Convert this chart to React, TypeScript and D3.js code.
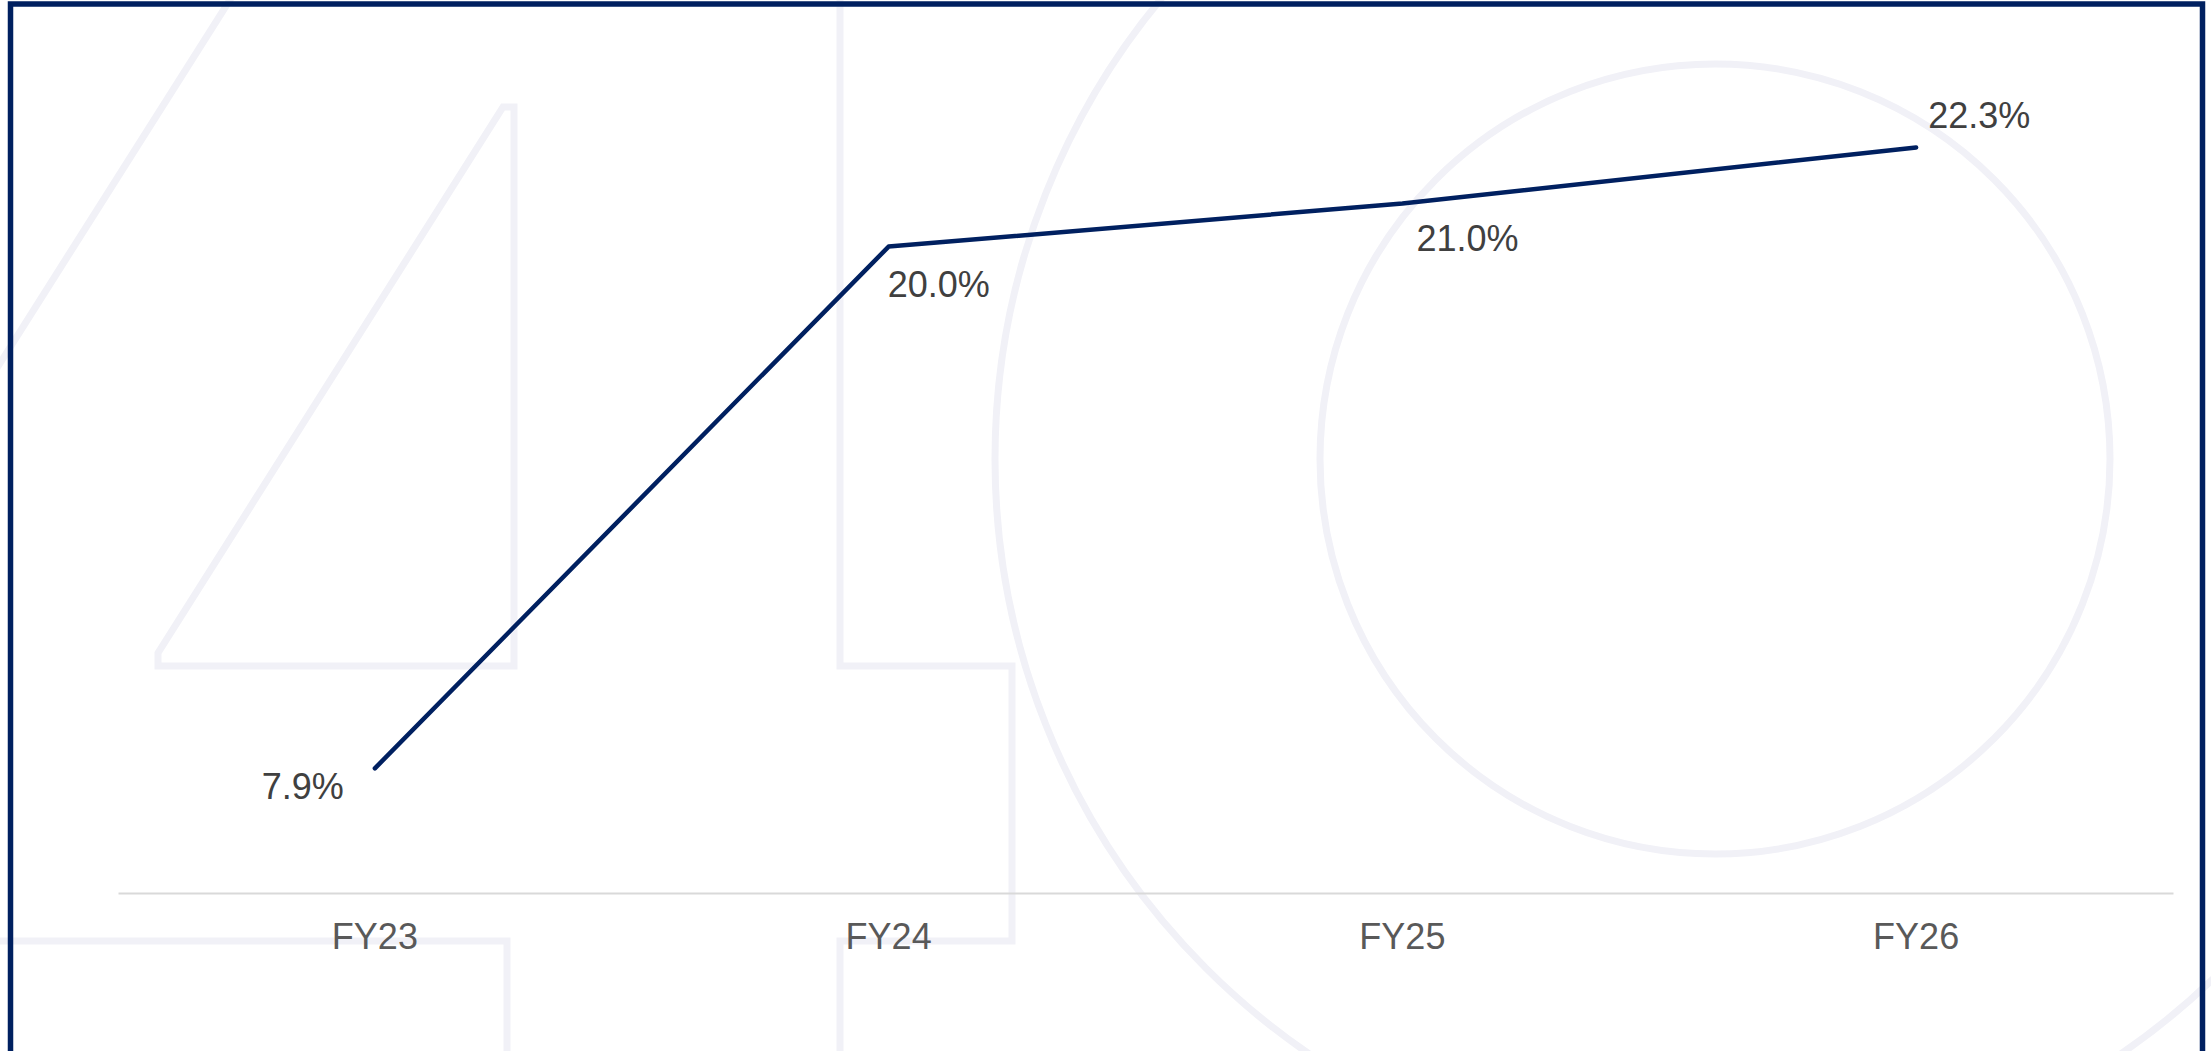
import { useEffect, useRef } from 'react';
import * as d3 from 'd3';

// Chart data
const categories = ['FY23', 'FY24', 'FY25', 'FY26'];
const values = [7.9, 20.0, 21.0, 22.3];
const valueLabels = ['7.9%', '20.0%', '21.0%', '22.3%'];

// label placement relative to each point (anchor, dx, dy)
const labelPlacement = [
  { anchor: 'end', dx: -31, dy: 31 },
  { anchor: 'start', dx: -1, dy: 50 },
  { anchor: 'start', dx: 14, dy: 48 },
  { anchor: 'start', dx: 12, dy: -19 },
];

const W = 2211;
const H = 1051;
const NAVY = '#002060';
const WATERMARK = '#f1f1f7';
const FONT = '"Liberation Sans", Arial, sans-serif';

const App = () => {
  const svgRef = useRef<SVGSVGElement | null>(null);

  useEffect(() => {
    const svg = d3.select(svgRef.current);
    svg.selectAll('*').remove();

    svg.append('rect').attr('width', W).attr('height', H).attr('fill', '#ffffff');

    // Background "40" watermark outlines
    const bg = svg.append('g')
      .attr('fill', 'none')
      .attr('stroke', WATERMARK)
      .attr('stroke-width', 7);

    bg.append('path').attr('d', 'M233,-5 L-10,379');
    bg.append('path').attr('d', 'M503,107 H514 V666 H158 V653 Z');
    bg.append('path').attr('d', 'M-5,941 H507 V1060');
    bg.append('path').attr('d', 'M840,-5 V666 H1012 V941 H840 V1060');
    bg.append('circle').attr('cx', 1715).attr('cy', 459).attr('r', 395);
    bg.append('circle').attr('cx', 1715).attr('cy', 459).attr('r', 720);

    // Frame
    svg.append('rect')
      .attr('x', 10.5)
      .attr('y', 4)
      .attr('width', 2192)
      .attr('height', 1200)
      .attr('fill', 'none')
      .attr('stroke', NAVY)
      .attr('stroke-width', 5.5);

    // Scales
    const x = d3.scaleBand<string>()
      .domain(categories)
      .range([118, 2173])
      .padding(0);

    const y = d3.scaleLinear()
      .domain([0, 25])
      .range([1109, 31]);

    const cx = (i: number) => (x(categories[i]) as number) + x.bandwidth() / 2;

    // X axis
    const axisY = 893;
    const axis = svg.append('g')
      .attr('transform', `translate(0,${axisY})`)
      .call(d3.axisBottom(x).tickSize(0).tickPadding(30));

    axis.select('.domain')
      .attr('stroke', '#d9d9d9')
      .attr('stroke-width', 2);

    axis.selectAll('text')
      .attr('fill', '#595959')
      .style('font-family', FONT)
      .style('font-size', '36px');

    // Line
    const line = d3.line<number>()
      .x((_, i) => cx(i))
      .y(d => y(d));

    svg.append('path')
      .datum(values)
      .attr('d', line)
      .attr('fill', 'none')
      .attr('stroke', NAVY)
      .attr('stroke-width', 4.5)
      .attr('stroke-linecap', 'round')
      .attr('stroke-linejoin', 'round');

    // Data labels
    svg.selectAll('.val')
      .data(values)
      .enter()
      .append('text')
      .attr('class', 'val')
      .attr('x', (_, i) => cx(i) + labelPlacement[i].dx)
      .attr('y', (d, i) => y(d) + labelPlacement[i].dy)
      .attr('text-anchor', (_, i) => labelPlacement[i].anchor)
      .attr('fill', '#404040')
      .style('font-family', FONT)
      .style('font-size', '36px')
      .text((_, i) => valueLabels[i]);
  }, []);

  return (
    <svg
      ref={svgRef}
      width={W}
      height={H}
      style={{ position: 'absolute', left: 0, top: 0, display: 'block' }}
    ></svg>
  );
};

export default App;
